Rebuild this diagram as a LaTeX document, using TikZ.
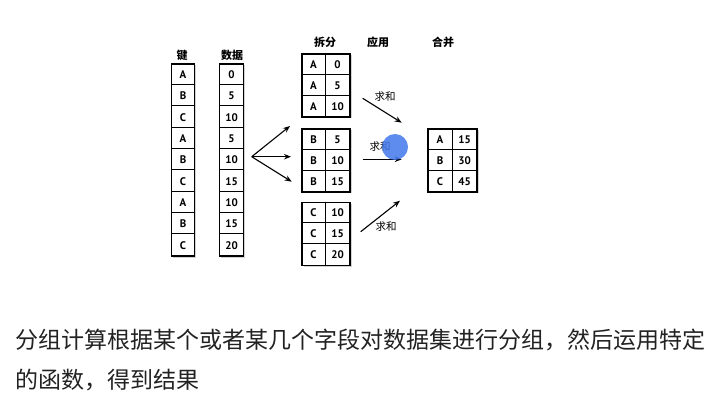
\documentclass[tikz,border=0pt]{standalone}
\usepackage{fontspec}
\setmainfont{PT Sans}
\newfontfamily\cjk{Noto Sans CJK SC}
\usetikzlibrary{shadows,arrows.meta}

\definecolor{cursorblue}{RGB}{66,120,235}
\definecolor{textgray}{RGB}{34,34,34}

\tikzset{
  tbl/.style={draw, line width=1.4pt, fill=white, inner sep=0pt,
    drop shadow={shadow xshift=1.5pt, shadow yshift=-1.5pt, opacity=.35}},
  sep/.style={line width=1pt},
  cell/.style={font=\bfseries\fontsize{11}{12}\selectfont, inner sep=0pt},
  head/.style={font=\cjk\bfseries\fontsize{11}{12}\selectfont},
  lbl/.style={font=\cjk\fontsize{10.5}{11}\selectfont},
  arr/.style={-{Stealth[length=7pt,width=5.5pt]}, line width=1.1pt},
  note/.style={font=\cjk\fontsize{23}{24}\selectfont, text=textgray, anchor=west, inner sep=0pt}
}

\begin{document}
\begin{tikzpicture}[x=1pt, y=-1pt]
    \useasboundingbox (0,0) rectangle (719,403);

    % column headers
    \node[head] (hkey) at (182,55) {键};
    \node[head] (hval) at (232,55) {数据};
    \node[head] (hsplit) at (325,42) {拆分};
    \node[head] (happly) at (378,42) {应用};
    \node[head] (hcomb) at (443,42) {合并};

    % key and data columns
    \node[tbl, minimum width=23, minimum height=192] (keys) at (183,160) {};
    \node[tbl, minimum width=24, minimum height=192] (vals) at (231.5,160) {};
    \foreach \i in {1,...,8} {
        \draw[sep] ([yshift=-21.33*\i]keys.north west) -- ([yshift=-21.33*\i]keys.north east);
        \draw[sep] ([yshift=-21.33*\i]vals.north west) -- ([yshift=-21.33*\i]vals.north east);
    }
    \foreach \k/\v [count=\i] in {A/0,B/5,C/10,A/5,B/10,C/15,A/10,B/15,C/20} {
        \node[cell] (k\i) at (183,53.33+21.33*\i) {\k};
        \node[cell] (v\i) at (231.5,53.33+21.33*\i) {\v};
    }

    % split groups
    \foreach \g/\cy/\l/\va/\vb/\vc in {a/85.5/A/0/5/10, b/160.5/B/5/10/15, c/234/C/10/15/20} {
        \node[tbl, minimum width=48, minimum height=63] (g\g) at (326,\cy) {};
        \draw[sep] ([xshift=-1]g\g.north) -- ([xshift=-1]g\g.south);
        \draw[sep] ([yshift=-21]g\g.north west) -- ([yshift=-21]g\g.north east);
        \draw[sep] ([yshift=-42]g\g.north west) -- ([yshift=-42]g\g.north east);
        \node[cell] (g\g l1) at (313.5,\cy-21) {\l};
        \node[cell] (g\g l2) at (313.5,\cy) {\l};
        \node[cell] (g\g l3) at (313.5,\cy+21) {\l};
        \node[cell] (g\g v1) at (337.5,\cy-21) {\va};
        \node[cell] (g\g v2) at (337.5,\cy) {\vb};
        \node[cell] (g\g v3) at (337.5,\cy+21) {\vc};
    }

    % combined result
    \node[tbl, minimum width=49, minimum height=63] (res) at (452.5,160.5) {};
    \draw[sep] ([xshift=-0.5]res.north) -- ([xshift=-0.5]res.south);
    \draw[sep] ([yshift=-21]res.north west) -- ([yshift=-21]res.north east);
    \draw[sep] ([yshift=-42]res.north west) -- ([yshift=-42]res.north east);
    \foreach \k/\v [count=\i] in {A/15,B/30,C/45} {
        \node[cell] (rk\i) at (440,118.5+21*\i) {\k};
        \node[cell] (rv\i) at (464.5,118.5+21*\i) {\v};
    }

    % fan out to the groups
    \coordinate (fan) at (251.7,156.7);
    \coordinate (ta) at (290,126);
    \coordinate (tb) at (291,156.7);
    \coordinate (tc) at (291.7,181.7);
    \draw[arr] (fan) -- (ta);
    \draw[arr] (fan) -- (tb);
    \draw[arr] (fan) -- (tc);

    % apply arrows
    \coordinate (sa) at (362.7,98.3);
    \coordinate (ea) at (401.7,122.7);
    \coordinate (sb) at (362.7,159.3);
    \coordinate (eb) at (401.7,159.3);
    \coordinate (sc) at (360.7,231.7);
    \coordinate (ec) at (400,200.7);
    \draw[arr] (sa) -- (ea);
    \draw[arr] (sb) -- (eb);
    \draw[arr] (sc) -- (ec);
    \node[lbl] (suma) at (385,97) {求和};
    \node[lbl] (sumb) at (380,147) {求和};
    \node[lbl] (sumc) at (386,227) {求和};

    % cursor highlight
    \fill[cursorblue, opacity=.85] (395,147) circle (13);

    % caption
    \node[note] (line1) at (15,340) {分组计算根据某个或者某几个字段对数据集进行分组，然后运用特定};
    \node[note] (line2) at (15,380) {的函数，得到结果};
\end{tikzpicture}
\end{document}
